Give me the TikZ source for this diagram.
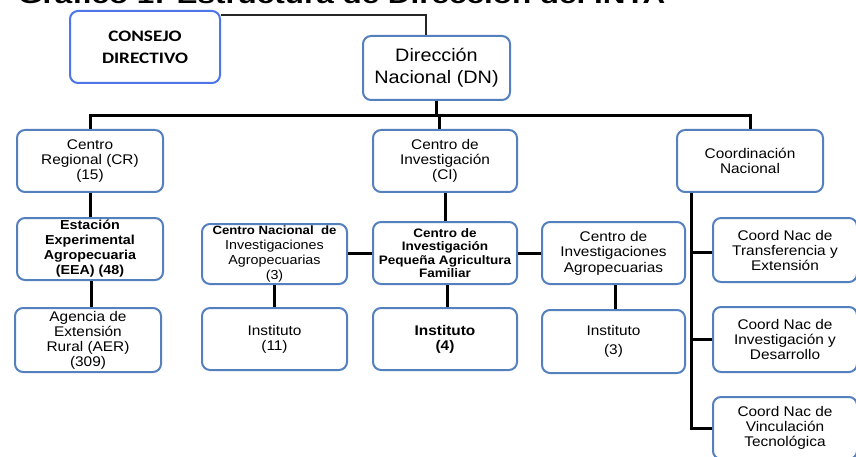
\documentclass[tikz,border=0pt]{standalone}
\usepackage{fontspec}
\setmainfont{Liberation Sans}[FakeStretch=1.1]
\newfontfamily\calibfont{Carlito}[FakeStretch=1.2]
\newfontfamily\titlefont{Liberation Sans}[FakeStretch=1.31]
\usetikzlibrary{calc}
\definecolor{boxblue}{RGB}{84,128,190}
\definecolor{cdblue}{RGB}{78,118,232}
\tikzset{
  orgbox/.style={draw=boxblue, line width=2pt, rounded corners=8pt, fill=white, align=center, inner sep=1pt, font=\fontsize{14}{15}\selectfont},
  conn/.style={draw=black, line width=3pt},
  thinconn/.style={draw=black!85, line width=2pt}
}
\begin{document}
\begin{tikzpicture}[x=1pt,y=-1pt]
\useasboundingbox (0,0) rectangle (856,457);
% title (cut off at top)
\node[anchor=base west, inner sep=0pt, font=\titlefont\bfseries\fontsize{24}{26}\selectfont] (title) at (18,3.5) {Gráfico 1: Estructura de Dirección del INTA};
% level 0
\node[orgbox, draw=cdblue, minimum width=150, minimum height=72, font=\calibfont\bfseries\fontsize{16}{22}\selectfont] (consejo) at (145,47) {CONSEJO\\DIRECTIVO};
\node[orgbox, minimum width=147, minimum height=64, font=\fontsize{18}{22}\selectfont] (dn) at (436.5,68) {Dirección\\Nacional (DN)};
% level 1
\node[orgbox, minimum width=146, minimum height=62] (cr) at (90,161) {Centro\\Regional (CR)\\(15)};
\node[orgbox, minimum width=144, minimum height=62] (ci) at (445,161) {Centro de\\Investigación\\(CI)};
\node[orgbox, minimum width=146, minimum height=62] (coord) at (750,161) {Coordinación\\Nacional};
% level 2
\node[orgbox, minimum width=146, minimum height=62, font=\bfseries\fontsize{13}{15}\selectfont] (eea) at (90,249) {Estación\\Experimental\\Agropecuaria\\(EEA) (48)};
\node[orgbox, minimum width=146, minimum height=64] (aer) at (88,340) {Agencia de\\Extensión\\Rural (AER)\\(309)};
\node[orgbox, minimum width=145, minimum height=60, font=\fontsize{13}{15}\selectfont] (cnia) at (274.5,254) {{\bfseries\fontsize{12}{15}\selectfont Centro Nacional\ \ de}\\Investigaciones\\Agropecuarias\\(3)};
\node[orgbox, minimum width=145, minimum height=62] (inst11) at (274.5,339) {Instituto\\(11)};
\node[orgbox, minimum width=144, minimum height=62, font=\bfseries\fontsize{12.3}{13.5}\selectfont] (cipaf) at (445,253) {Centro de\\Investigación\\Pequeña Agricultura\\Familiar};
\node[orgbox, minimum width=144, minimum height=62, font=\bfseries\fontsize{14}{15}\selectfont] (inst4) at (445,339) {Instituto\\(4)};
\node[orgbox, minimum width=143, minimum height=62, font=\fontsize{14}{15.5}\selectfont] (cia) at (613.5,253) {Centro de\\Investigaciones\\Agropecuarias};
\node[orgbox, minimum width=143, minimum height=63, font=\fontsize{14}{19}\selectfont] (inst3) at (613.5,341.5) {Instituto\\(3)};
\node[orgbox, minimum width=144, minimum height=64] (tr) at (785,250) {Coord Nac de\\Transferencia y\\Extensión};
\node[orgbox, minimum width=144, minimum height=65] (id) at (785,339.5) {Coord Nac de\\Investigación y\\Desarrollo};
\node[orgbox, minimum width=144, minimum height=62] (vt) at (785,428) {Coord Nac de\\Vinculación\\Tecnológica};
% connectors
\coordinate (bus) at (0,116);
\draw[thinconn] ($(consejo.north east)+(0,5)$) -| ($(dn.north)+(-11,0)$);
\draw[conn] (dn.south) -- (dn.south |- bus);
\draw[conn] (cr.north) -- (cr.north |- bus) -- (coord.north |- bus) -- (coord.north);
\draw[conn] ($(ci.north)+(-6,0)$) -- ($(ci.north |- bus)+(-6,0)$);
\draw[conn] (cr.south) -- (eea.north);
\draw[conn] ($(eea.south)+(1,0)$) -- ($(eea.south |- aer.north)+(1,0)$);
\draw[conn] (ci.south) -- (cipaf.north);
\draw[conn] ($(cipaf.south)+(2,0)$) -- ($(inst4.north)+(2,0)$);
\draw[conn] (cnia.south) -- (inst11.north);
\draw[conn] ($(cia.south)+(1.5,0)$) -- ($(cia.south |- inst3.north)+(1.5,0)$);
\draw[conn] (cipaf.west -| cnia.east) -- (cipaf.west);
\draw[conn] (cipaf.east) -- (cipaf.east -| cia.west);
\draw[conn] ($(coord.south west)+(15,0)$) coordinate (cv) -- (cv |- vt.west) -- (vt.west);
\draw[conn] ($(cv |- tr.west)+(0,2)$) -- ($(tr.west)+(0,2)$);
\draw[conn] (cv |- id.west) -- (id.west);
\end{tikzpicture}
\end{document}
